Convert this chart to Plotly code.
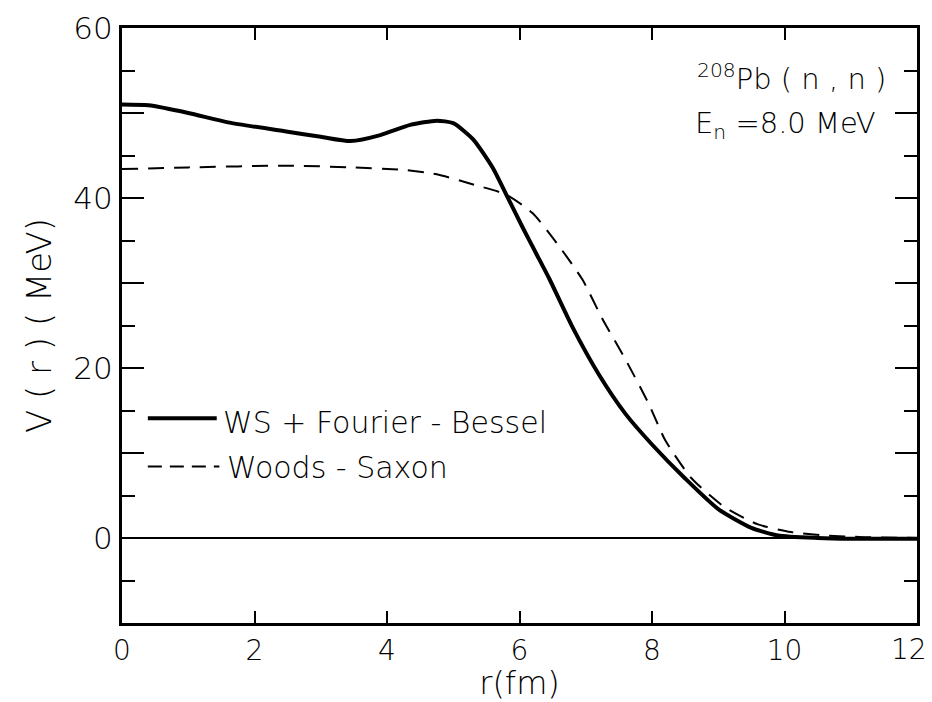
import plotly.graph_objects as go

# Radial potential depth V(r) for 208Pb(n,n) at En = 8.0 MeV
r_ws_fb = [0.0, 0.4, 1.0, 1.6, 2.5, 3.0, 3.45, 3.9, 4.35, 4.75, 5.0, 5.3, 5.6, 5.8,
           6.05, 6.25, 6.45, 6.8, 7.2, 7.6, 8.0, 8.5, 9.0, 9.5, 9.9, 10.5, 11.0, 12.0]
v_ws_fb = [51.0, 50.9, 50.0, 48.9, 47.8, 47.2, 46.7, 47.4, 48.6, 49.1, 48.8, 46.9, 43.5, 40.4,
           36.5, 33.5, 30.5, 24.8, 19.2, 14.6, 11.0, 7.0, 3.4, 1.2, 0.3, 0.0, -0.1, -0.1]

r_ws = [0.0, 1.0, 2.5, 3.5, 4.25, 4.75, 5.25, 5.8, 6.2, 6.6, 6.95, 7.25, 7.6, 7.95,
        8.2, 8.6, 9.1, 9.6, 10.1, 10.6, 11.2, 12.0]
v_ws = [43.4, 43.6, 43.8, 43.6, 43.3, 42.8, 41.7, 40.4, 38.2, 34.3, 30.4, 25.8, 21.0, 15.8,
        11.5, 7.0, 3.6, 1.6, 0.7, 0.3, 0.1, 0.0]

x_ticks = [0, 2, 4, 6, 8, 10, 12]
x_tick_text = ["0", "2", "4", "6", "8", "10", ""]  # "12" is placed separately below
y_ticks = [-10, 0, 10, 20, 30, 40, 50, 60]
y_tick_text = ["", "0", "", "20", "", "40", "", "60"]

label_ws_fb = "WS + Fourier - Bessel"
label_ws = "Woods - Saxon"

FONT = "DejaVu Sans"
W = 200  # thin lettering


def f(size):
    return dict(family=FONT, size=size, color="black", weight=W)


fig = go.Figure()
fig.add_trace(go.Scatter(x=r_ws_fb, y=v_ws_fb, mode="lines", name=label_ws_fb,
                         line=dict(color="black", width=4, shape="spline", smoothing=0.6)))
fig.add_trace(go.Scatter(x=r_ws, y=v_ws, mode="lines", name=label_ws,
                         line=dict(color="black", width=2, dash="16px,10px",
                                   shape="spline", smoothing=0.6)))

# last x tick label, nudged left so it stays inside the page
fig.add_annotation(x=x_ticks[-1], xref="x", y=0, yref="paper", yanchor="top",
                   text=str(x_ticks[-1]), showarrow=False, xshift=-8, yshift=-8,
                   font=f(28))

# hand-drawn style legend: line samples plus labels
fig.add_shape(type="line", x0=0.39, x1=1.43, y0=14.1, y1=14.1,
              line=dict(color="black", width=4))
fig.add_shape(type="line", x0=0.39, x1=1.47, y0=8.4, y1=8.4,
              line=dict(color="black", width=2, dash="14px,8px"))
fig.add_annotation(x=1.5, y=13.6, text=label_ws_fb, showarrow=False, xanchor="left",
                   font=f(30))
fig.add_annotation(x=1.56, y=8.3, text=label_ws, showarrow=False, xanchor="left",
                   font=f(30))

# reaction labels in the upper right
fig.add_annotation(x=8.65, y=54.2, text="<sup>208</sup>Pb ( n , n )", showarrow=False,
                   xanchor="left", font=f(29))
fig.add_annotation(x=8.62, y=48.6, text="E<sub>n</sub> =8.0 MeV", showarrow=False,
                   xanchor="left", font=f(29))

fig.update_layout(
    width=932, height=702,
    margin=dict(l=122, r=15, t=28, b=79),
    paper_bgcolor="white", plot_bgcolor="white",
    showlegend=False,
    font=f(30),
)
fig.update_xaxes(
    range=[0, 12], tickvals=x_ticks, ticktext=x_tick_text, ticks="inside", ticklen=12,
    tickwidth=2, tickcolor="black", showline=True, linecolor="black", linewidth=3,
    mirror="ticks", showgrid=False, zeroline=False, automargin=False,
    tickfont=f(28),
    title=dict(text="r(fm)", font=f(32), standoff=9),
)
fig.update_yaxes(
    range=[-10, 60], tickvals=y_ticks, ticktext=y_tick_text, ticks="inside", ticklen=22,
    tickwidth=2, tickcolor="black", showline=True, linecolor="black", linewidth=3,
    mirror="ticks", showgrid=False, automargin=False,
    zeroline=True, zerolinecolor="black", zerolinewidth=2,
    minor=dict(dtick=5, tick0=0, ticks="inside", ticklen=13, tickwidth=2, tickcolor="black"),
    tickfont=f(31),
    title=dict(text="V ( r ) ( MeV)", font=f(34), standoff=12),
)

fig.write_html("out.html")
